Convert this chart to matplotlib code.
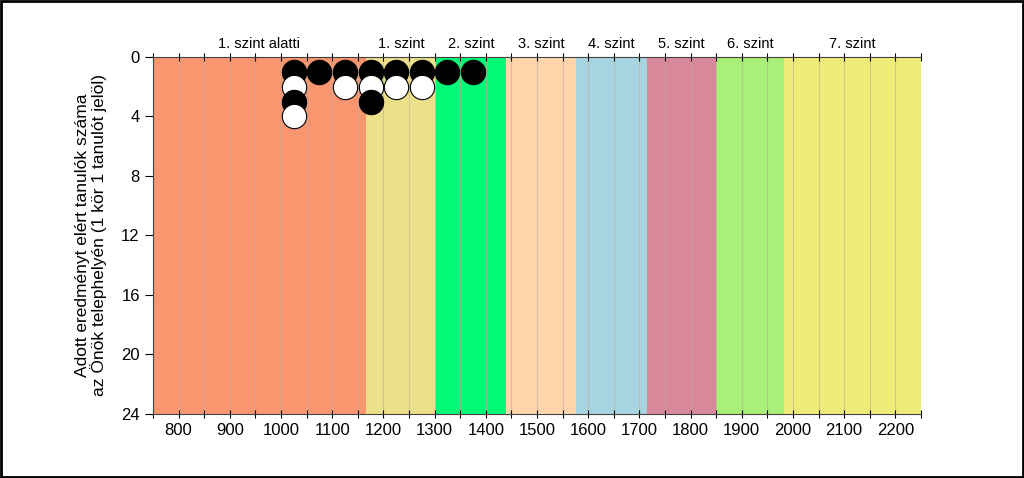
import numpy as np
import matplotlib.pyplot as plt

# level bands (score limits) and names
band_edges = [750, 1166, 1303, 1440, 1577, 1714, 1850, 1983, 2250]
band_names = ["1. szint alatti", "1. szint", "2. szint", "3. szint",
              "4. szint", "5. szint", "6. szint", "7. szint"]
band_colors = ["#F9956F", "#ECE08A", "#00FA78", "#FFD5AA",
               "#A8D4E2", "#D9879A", "#A9EF78", "#EEEC78"]

# students per score bin (bin centres, 50-point bins)
bin_centres = [1025, 1075, 1125, 1175, 1225, 1275, 1325, 1375]
counts = [4, 1, 2, 3, 2, 2, 1, 1]

fig = plt.figure(figsize=(10.24, 4.78), dpi=100)
ax = fig.add_axes([0.1494, 0.1339, 0.75, 0.747])

for i in range(len(band_names)):
    ax.axvspan(band_edges[i], band_edges[i + 1], color=band_colors[i], lw=0, zorder=0)
    mid = (band_edges[i] + band_edges[i + 1]) / 2
    ax.text(mid, -0.4, band_names[i], ha="center", va="bottom", fontsize=10.5,
            family="Liberation Sans")

for x in np.arange(800, 2250, 50):
    ax.axvline(x, color="#b8b0a0", lw=0.8, alpha=0.6, zorder=1)

# circles: alternate black / white up the stack
for c, n in zip(bin_centres, counts):
    for k in range(1, n + 1):
        fc = "black" if k % 2 == 1 else "white"
        ax.plot(c, k, "o", ms=17.5, mfc=fc, mec="black", mew=0.8, zorder=3)

ax.set_xlim(750, 2250)
ax.set_ylim(24, 0)
ax.set_yticks(range(0, 25, 4))
ax.set_xticks(range(800, 2201, 100))
ax.set_xticks(range(750, 2251, 50), minor=True)
ax.tick_params(axis="x", which="both", top=True, direction="inout", length=6, width=0.8)
ax.tick_params(axis="y", direction="out", length=6, width=0.8)
ax.tick_params(labelsize=12)
for lab in ax.get_xticklabels() + ax.get_yticklabels():
    lab.set_family("Liberation Sans")

ax.spines["right"].set_visible(False)
for side in ["left", "top", "bottom"]:
    ax.spines[side].set_color("#444444")

ax.set_ylabel("Adott eredményt elért tanulók száma\naz Önök telephelyén (1 kör 1 tanulót jelöl)",
              fontsize=12.5, family="Liberation Sans", labelpad=10, linespacing=1.05)

# outer frame
fig.patches.append(plt.Rectangle((0.001, 0.002), 0.998, 0.996, transform=fig.transFigure,
                                 fill=False, ec="black", lw=2))

fig.savefig("out.png", dpi=100)
